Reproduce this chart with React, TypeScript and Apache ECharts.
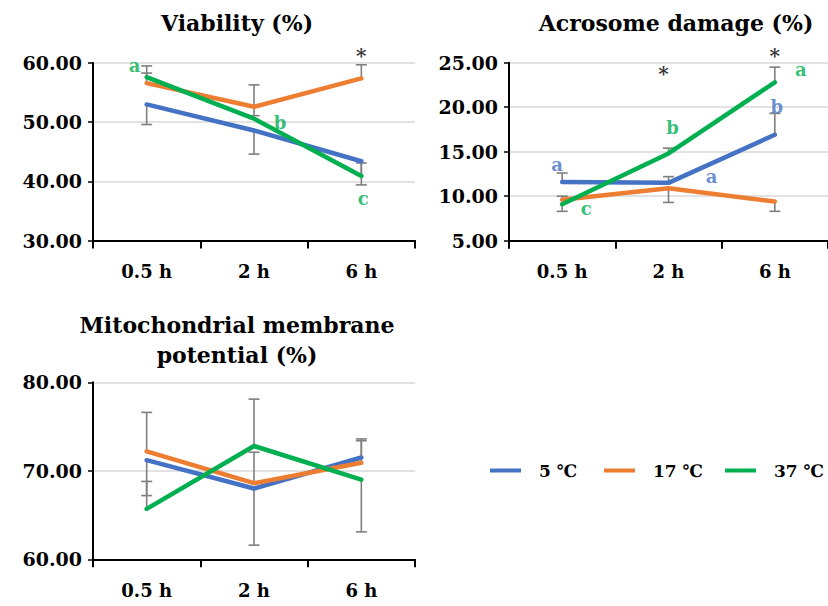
import React, { useEffect, useRef } from "react";
import * as echarts from "echarts";

const cats = ["0.5 h", "2 h", "6 h"];
const seriesNames = ["5 ℃", "17 ℃", "37 ℃"];
const colors = ["#4472C4", "#ED7D31", "#00B050"];

// Viability (%)
const viab5 = [53.0, 48.6, 43.4];
const viab17 = [56.6, 52.6, 57.4];
const viab37 = [57.6, 50.6, 40.9];
// error bars [minus, plus]
const viabErr5 = [[3.4, 0], [4.0, 0], [4.0, 0]];
const viabErr17 = [[0, 1.7], [1.5, 3.7], [0, 2.3]];
const viabErr37 = [[0, 1.9], [0, 0], [0, 2.2]];

// Acrosome damage (%)
const acro5 = [11.6, 11.5, 16.9];
const acro17 = [9.6, 10.9, 9.4];
const acro37 = [9.1, 14.8, 22.8];
const acroErr5 = [[0, 1.0], [0, 0.7], [0, 2.4]];
const acroErr17 = [[0, 0.4], [1.6, 0], [1.1, 0]];
const acroErr37 = [[0.8, 0], [0, 0.6], [0, 1.7]];

// Mitochondrial membrane potential (%)
const mmp5 = [71.2, 68.0, 71.5];
const mmp17 = [72.2, 68.6, 70.9];
const mmp37 = [65.7, 72.8, 69.0];
const mmpErr5 = [[4.0, 0], [6.4, 0], [0, 2.1]];
const mmpErr17 = [[0, 4.4], [0, 3.5], [0, 2.5]];
const mmpErr37 = [[0, 3.1], [0, 5.3], [5.9, 0]];

// significance letters: [category index, value, text, series index or -1 for black, dx]
const viabMarks: [number, number, string, number, number][] = [
  [0, 59.5, "a", 2, -12],
  [1, 50.0, "b", 2, 26],
  [2, 37.1, "c", 2, 2],
  [2, 61.2, "*", -1, 0],
];
const acroMarks: [number, number, string, number, number][] = [
  [1, 23.7, "*", -1, -5],
  [2, 25.8, "*", -1, 0],
  [2, 24.2, "a", 2, 26],
  [1, 17.7, "b", 2, 4],
  [0, 8.6, "c", 2, 24],
  [0, 13.6, "a", 0, -5],
  [2, 20.1, "b", 0, 2],
  [1, 12.2, "a", 0, 43],
];

const FONT = "DejaVu Serif";

const panels = [
  { vals: [viab5, viab17, viab37], errs: [viabErr5, viabErr17, viabErr37], marks: viabMarks, min: 30, max: 60, interval: 10, grid: { left: 93, top: 63, width: 322, height: 177.5 } },
  { vals: [acro5, acro17, acro37], errs: [acroErr5, acroErr17, acroErr37], marks: acroMarks, min: 5, max: 25, interval: 5, grid: { left: 509, top: 62.7, width: 322.7, height: 178 } },
  { vals: [mmp5, mmp17, mmp37], errs: [mmpErr5, mmpErr17, mmpErr37], marks: [] as [number, number, string, number, number][], min: 60, max: 80, interval: 10, grid: { left: 93, top: 382.3, width: 322, height: 177 } },
];

export default function App() {
  const ref = useRef<HTMLDivElement>(null);
  useEffect(() => {
    if (!ref.current) return;
    const chart = echarts.init(ref.current, null, { renderer: "svg" });
    const grids: any[] = [];
    const xAxes: any[] = [];
    const yAxes: any[] = [];
    const series: any[] = [];
    panels.forEach((p, i) => {
      grids.push({ ...p.grid, containLabel: false });
      xAxes.push({
        type: "category",
        gridIndex: i,
        data: cats,
        boundaryGap: true,
        axisLine: { lineStyle: { color: "#000", width: 2 } },
        axisTick: { show: true, length: 8, lineStyle: { color: "#000", width: 2 } },
        axisLabel: { fontFamily: FONT, fontWeight: "bold", fontSize: 18, color: "#000", margin: 22 },
        splitLine: { show: false },
      });
      yAxes.push({
        type: "value",
        gridIndex: i,
        min: p.min,
        max: p.max,
        interval: p.interval,
        axisLine: { show: true, lineStyle: { color: "#000", width: 2 } },
        axisTick: { show: true, length: 5, lineStyle: { color: "#000", width: 1.5 } },
        axisLabel: {
          fontFamily: FONT,
          fontWeight: "bold",
          fontSize: 19,
          color: "#000",
          margin: 11,
          formatter: (v: number) => v.toFixed(2),
        },
        splitLine: { show: true, lineStyle: { color: "#d9d9d9", width: 1.5 } },
      });
      // error bars
      p.vals.forEach((vals, s) => {
        const data = vals.map((v, k) => [k, v, v - p.errs[s][k][0], v + p.errs[s][k][1]]);
        series.push({
          type: "custom",
          xAxisIndex: i,
          yAxisIndex: i,
          z: 2,
          silent: true,
          clip: false,
          data,
          renderItem: (params: any, api: any) => {
            const x = api.value(0);
            const v = api.value(1);
            const lo = api.value(2);
            const hi = api.value(3);
            const children: any[] = [];
            const st = { stroke: "#7f7f7f", lineWidth: 1.6 };
            if (lo === hi) return { type: "group", children };
            const pLo = api.coord([x, lo]);
            const pHi = api.coord([x, hi]);
            children.push({ type: "line", shape: { x1: pLo[0], y1: pLo[1], x2: pHi[0], y2: pHi[1] }, style: st });
            if (lo < v) children.push({ type: "line", shape: { x1: pLo[0] - 5.5, y1: pLo[1], x2: pLo[0] + 5.5, y2: pLo[1] }, style: st });
            if (hi > v) children.push({ type: "line", shape: { x1: pHi[0] - 5.5, y1: pHi[1], x2: pHi[0] + 5.5, y2: pHi[1] }, style: st });
            return { type: "group", children };
          },
        });
      });
      // lines
      p.vals.forEach((vals, s) => {
        series.push({
          type: "line",
          name: seriesNames[s],
          xAxisIndex: i,
          yAxisIndex: i,
          z: 3,
          data: vals,
          symbol: "none",
          itemStyle: { color: colors[s] },
          lineStyle: { color: colors[s], width: 4.5, cap: "round", join: "round" },
        });
      });
      // letters
      if (p.marks.length) {
        series.push({
          type: "scatter",
          xAxisIndex: i,
          yAxisIndex: i,
          z: 4,
          clip: false,
          symbolSize: 0,
          silent: true,
          data: p.marks.map((m) => ({
            value: [m[0], m[1]],
            label: {
              show: true,
              position: "inside",
              formatter: m[2],
              offset: [m[4], 0],
              color: m[3] < 0 ? "#000" : colors[m[3]],
              fontFamily: FONT,
              fontWeight: "bold",
              fontSize: m[2] === "*" ? 20 : 18,
            },
          })),
        });
      }
    });

    const legendBase = {
      icon: "rect",
      itemWidth: 31,
      itemHeight: 4,
      top: 457,
      selectedMode: false,
      textStyle: { fontFamily: FONT, fontSize: 17, fontWeight: "bold", color: "#000", padding: [0, 0, 0, 13] },
    };

    chart.setOption({
      animation: false,
      backgroundColor: "#fff",
      grid: grids,
      xAxis: xAxes,
      yAxis: yAxes,
      series,
      legend: [
        { ...legendBase, data: [seriesNames[0]], left: 485 },
        { ...legendBase, data: [seriesNames[1]], left: 599 },
        { ...legendBase, data: [seriesNames[2]], left: 720 },
      ],
      graphic: [
        { type: "text", x: 237, y: 23, style: { text: "Viability (%)", fontFamily: FONT, fontWeight: "bold", fontSize: 22, fill: "#000", textAlign: "center", textVerticalAlign: "middle" } },
        { type: "text", x: 676, y: 23, style: { text: "Acrosome damage (%)", fontFamily: FONT, fontWeight: "bold", fontSize: 22, fill: "#000", textAlign: "center", textVerticalAlign: "middle" } },
        { type: "text", x: 237, y: 340, style: { text: "Mitochondrial membrane\npotential (%)", lineHeight: 30, fontFamily: FONT, fontWeight: "bold", fontSize: 22, fill: "#000", textAlign: "center", textVerticalAlign: "middle" } },
      ],
    });
    return () => chart.dispose();
  }, []);
  return <div ref={ref} style={{ position: "fixed", left: 0, top: 0, width: 828, height: 606 }} />;
}
